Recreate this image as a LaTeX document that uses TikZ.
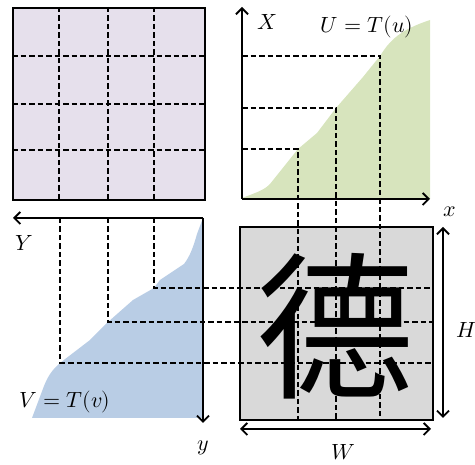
\documentclass[tikz,border=0pt]{standalone}
\usepackage{fontspec}
\usepackage{unicode-math}
\setmathfont{Latin Modern Math}
\newfontfamily\cjk{Noto Sans CJK SC}
\usetikzlibrary{arrows.meta}
\definecolor{lav}{HTML}{E6E0EC}
\definecolor{grn}{HTML}{D7E4BD}
\definecolor{blu}{HTML}{B9CDE5}
\definecolor{gry}{HTML}{D9D9D9}
\begin{document}
\begin{tikzpicture}[x=1pt,y=-1pt,
  box/.style={line width=1.8pt},
  dsh/.style={line width=1.9pt,dash pattern=on 5.5pt off 3pt},
  axis/.style={line width=1.9pt,-{Straight Barb[length=6pt,width=12pt]}},
  dbl/.style={line width=1.9pt,{Straight Barb[length=6pt,width=12pt]}-{Straight Barb[length=6pt,width=12pt]}},
  lbl/.style={font=\fontsize{22}{26}\selectfont,inner sep=0pt}]
\useasboundingbox (0,0) rectangle (475,465);

% ---------- top-left grid ----------
\node[box,draw,fill=lav,minimum width=192pt,minimum height=192pt,inner sep=0pt,anchor=north west] (grid) at (12,7) {};
\foreach \x in {59,108,154}{\draw[dsh] (\x,7) -- (\x,199);}
\foreach \y in {56,104,150}{\draw[dsh] (12,\y) -- (204,\y);}

% ---------- top-right plot ----------
\fill[grn] (242,199) -- (242,198) .. controls (258,192) and (264,190) .. (270,184)
  -- (298,149) -- (317,133) -- (336,108) -- (363,77) -- (380,56)
  .. controls (390,40) and (400,30) .. (430,20) -- (430,199) -- cycle;
\coordinate (o1) at (242,199);
\coordinate (xend) at (430,199);
\coordinate (Xend) at (242,7);
\draw[axis] (o1) -- (xend);
\draw[axis] (o1) -- (Xend);
\node[lbl] (Xl) at (267,22) {$X$};
\node[lbl] (Ul) at (367,27) {$U=T(u)$};
\node[lbl] (xl) at (450,212) {$x$};

% ---------- bottom-right image ----------
\node[box,draw,fill=gry,minimum width=193pt,minimum height=193pt,inner sep=0pt,anchor=north west] (img) at (239,226) {};
\node[inner sep=0pt,font=\cjk\fontsize{158}{160}\selectfont] (char) at (335,326) {德};
\draw[dbl] (443,227) -- (443,418);
\node[lbl] (Hl) at (466,330) {$H$};
\draw[dbl] (240,429) -- (431,429);
\node[lbl] (Wl) at (343,452) {$W$};

% ---------- bottom-left plot ----------
\fill[blu] (203,218) -- (197,234) .. controls (193,248) and (190,256) .. (184,264)
  -- (160,280) -- (154,288) -- (133,300) -- (108,322) -- (90,340) -- (60,363)
  .. controls (52,370) and (48,376) .. (44,386) -- (32,418) -- (203,418) -- cycle;
\coordinate (o2) at (203,218);
\coordinate (Yend) at (13,218);
\coordinate (yend) at (203,423);
\draw[axis] (o2) -- (Yend);
\draw[axis] (o2) -- (yend);
\node[lbl] (Yl) at (24,243) {$Y$};
\node[lbl] (yl) at (203,448) {$y$};
\node[lbl] (Vl) at (65,402) {$V=T(v)$};

% ---------- mapping dashes ----------
\draw[dsh] (242,149) -- (298,149) -- (298,419);
\draw[dsh] (242,108) -- (336,108) -- (336,419);
\draw[dsh] (242,56) -- (380,56) -- (380,419);
\draw[dsh] (154,218) -- (154,288) -- (432,288);
\draw[dsh] (108,218) -- (108,322) -- (432,322);
\draw[dsh] (60,218) -- (60,363) -- (432,363);
\end{tikzpicture}
\end{document}
